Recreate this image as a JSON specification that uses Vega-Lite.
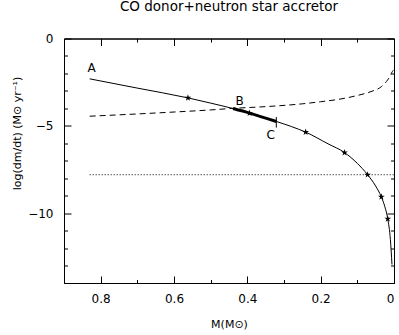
{
  "$schema": "https://vega.github.io/schema/vega-lite/v6.json",
  "width": 330,
  "height": 244.5,
  "autosize": "none",
  "padding": {"left": 64, "top": 38.5, "right": 5, "bottom": 52},
  "config": {
    "view": {"stroke": null},
    "font": "DejaVu Sans",
    "axis": {
      "domainColor": "black", "tickColor": "black", "labelColor": "black", "titleColor": "black",
      "grid": false, "labelFont": "DejaVu Sans", "titleFont": "DejaVu Sans",
      "labelFontSize": 12, "titleFontSize": 11, "titleFontWeight": "normal",
      "domainWidth": 1, "tickWidth": 1
    }
  },
  "title": {"text": "CO donor+neutron star accretor", "fontSize": 13.5, "fontWeight": "normal", "font": "DejaVu Sans", "color": "black", "anchor": "middle", "frame": "group", "baseline": "alphabetic", "offset": 8},
  "datasets": {
    "solid": [
      {"M": 0.83, "y": -2.31}, {"M": 0.70, "y": -2.84}, {"M": 0.562, "y": -3.40}, {"M": 0.50, "y": -3.70},
      {"M": 0.439, "y": -4.01}, {"M": 0.394, "y": -4.27}, {"M": 0.321, "y": -4.75}, {"M": 0.28, "y": -5.04},
      {"M": 0.241, "y": -5.36}, {"M": 0.18, "y": -6.03}, {"M": 0.135, "y": -6.53}, {"M": 0.10, "y": -7.15},
      {"M": 0.072, "y": -7.8}, {"M": 0.05, "y": -8.45}, {"M": 0.0345, "y": -9.07}, {"M": 0.025, "y": -9.63},
      {"M": 0.017, "y": -10.33}, {"M": 0.0099, "y": -11.5}, {"M": 0.0055, "y": -12.94}
    ],
    "thick": [
      {"M": 0.439, "y": -4.01}, {"M": 0.394, "y": -4.27}, {"M": 0.321, "y": -4.75}
    ],
    "dashed": [
      {"M": 0.83, "y": -4.45}, {"M": 0.70, "y": -4.32}, {"M": 0.60, "y": -4.21}, {"M": 0.50, "y": -4.09},
      {"M": 0.44, "y": -4.00}, {"M": 0.366, "y": -3.92}, {"M": 0.30, "y": -3.83}, {"M": 0.25, "y": -3.74},
      {"M": 0.20, "y": -3.62}, {"M": 0.15, "y": -3.48}, {"M": 0.12, "y": -3.36}, {"M": 0.09, "y": -3.21},
      {"M": 0.06, "y": -3.02}, {"M": 0.034, "y": -2.75}, {"M": 0.021, "y": -2.47}, {"M": 0.012, "y": -2.2},
      {"M": 0.0072, "y": -1.99}, {"M": 0.002, "y": -1.82}
    ],
    "dotted": [
      {"M": 0.83, "y": -7.8}, {"M": 0.0, "y": -7.8}
    ],
    "stars": [
      {"M": 0.562, "y": -3.40}, {"M": 0.394, "y": -4.27}, {"M": 0.241, "y": -5.36}, {"M": 0.135, "y": -6.53},
      {"M": 0.072, "y": -7.8}, {"M": 0.0345, "y": -9.07}, {"M": 0.017, "y": -10.33}
    ],
    "letters": [
      {"M": 0.8245, "y": -1.69, "label": "A"}, {"M": 0.421, "y": -3.57, "label": "B"}, {"M": 0.336, "y": -5.51, "label": "C"}
    ],
    "ctick": [
      {"M": 0.321, "y1": -4.5, "y2": -5.1}
    ]
  },
  "layer": [
    {
      "data": {"name": "dotted"},
      "mark": {"type": "line", "color": "black", "strokeWidth": 1, "strokeDash": [1, 2]},
      "encoding": {
        "x": {"field": "M", "type": "quantitative",
          "scale": {"domain": [0, 0.9], "reverse": true, "nice": false, "zero": false},
          "axis": {"orient": "bottom", "values": [0.8, 0.6, 0.4, 0.2, 0], "format": "~g",
            "tickSize": -7, "labelPadding": 17, "title": "M(M⊙)", "titleY": 44, "titleBaseline": "alphabetic"}},
        "y": {"field": "y", "type": "quantitative",
          "scale": {"domain": [-14, 0], "nice": false, "zero": false},
          "axis": {"orient": "left", "values": [0, -5, -10], "format": "d",
            "tickSize": -7, "labelPadding": 18, "title": "log(dm/dt) (M⊙ yr⁻¹)", "titleX": -47, "titleY": 94.5,
            "titleBaseline": "middle", "titleAlign": "center"}}
      }
    },
    {
      "data": {"name": "dashed"},
      "mark": {"type": "line", "color": "black", "strokeWidth": 1, "strokeDash": [6, 4], "interpolate": "monotone"},
      "encoding": {
        "x": {"field": "M", "type": "quantitative",
          "axis": {"orient": "top", "values": [0.8, 0.6, 0.4, 0.2, 0], "labels": false, "title": null, "tickSize": -7}},
        "y": {"field": "y", "type": "quantitative",
          "axis": {"orient": "right", "values": [0, -5, -10], "labels": false, "title": null, "tickSize": -7}}
      }
    },
    {
      "data": {"name": "solid"},
      "mark": {"type": "line", "color": "black", "strokeWidth": 1, "interpolate": "monotone"},
      "encoding": {
        "x": {"field": "M", "type": "quantitative",
          "axis": {"orient": "bottom", "values": [0.7, 0.5, 0.3, 0.1], "labels": false, "title": null, "tickSize": -3.5}},
        "y": {"field": "y", "type": "quantitative",
          "axis": {"orient": "left", "values": [-1, -2, -3, -4, -6, -7, -8, -9, -11, -12, -13], "labels": false, "title": null, "tickSize": -3.5}}
      }
    },
    {
      "data": {"name": "thick"},
      "mark": {"type": "line", "color": "black", "strokeWidth": 3, "interpolate": "monotone"},
      "encoding": {
        "x": {"field": "M", "type": "quantitative",
          "axis": {"orient": "top", "values": [0.7, 0.5, 0.3, 0.1], "labels": false, "title": null, "tickSize": -3.5}},
        "y": {"field": "y", "type": "quantitative",
          "axis": {"orient": "right", "values": [-1, -2, -3, -4, -6, -7, -8, -9, -11, -12, -13], "labels": false, "title": null, "tickSize": -3.5}}
      }
    },
    {
      "data": {"name": "ctick"},
      "mark": {"type": "rule", "color": "black", "strokeWidth": 1},
      "encoding": {
        "x": {"field": "M", "type": "quantitative", "axis": null},
        "y": {"field": "y1", "type": "quantitative", "axis": null},
        "y2": {"field": "y2"}
      }
    },
    {
      "data": {"name": "stars"},
      "mark": {"type": "point", "shape": "M0,-1L0.2245,-0.309L0.951,-0.309L0.363,0.118L0.588,0.809L0,0.382L-0.588,0.809L-0.363,0.118L-0.951,-0.309L-0.2245,-0.309Z", "filled": true, "color": "black", "size": 50, "opacity": 1},
      "encoding": {
        "x": {"field": "M", "type": "quantitative", "axis": null},
        "y": {"field": "y", "type": "quantitative", "axis": null}
      }
    },
    {
      "data": {"name": "letters"},
      "mark": {"type": "text", "color": "black", "fontSize": 12, "font": "DejaVu Sans", "align": "center", "baseline": "middle"},
      "encoding": {
        "x": {"field": "M", "type": "quantitative", "axis": null},
        "y": {"field": "y", "type": "quantitative", "axis": null},
        "text": {"field": "label"}
      }
    }
  ],
  "resolve": {"axis": {"x": "independent", "y": "independent"}}
}
